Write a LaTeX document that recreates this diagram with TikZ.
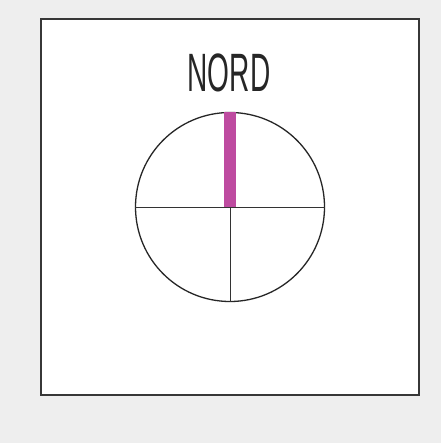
\documentclass[tikz,border=0pt]{standalone}
\usepackage{fontspec}
\usepackage{xcolor}
\usepackage{tikz}
\usetikzlibrary{positioning}
\newfontfamily\nordfont[FakeStretch=0.52]{Liberation Sans}
\definecolor{paper}{RGB}{238,238,238}
\definecolor{framegrey}{RGB}{55,55,55}
\definecolor{needlepink}{RGB}{190,75,160}

\begin{document}
\begin{tikzpicture}[x=1pt,y=-1pt,
  frame/.style={draw=framegrey, line width=1.8pt, fill=white},
  dial/.style={draw=black!85, circle, line width=1.3pt, minimum size=189pt, inner sep=0pt},
  axis/.style={draw=black!80, line width=0.8pt},
  needle/.style={draw=needlepink, line width=12pt},
  lab/.style={font=\nordfont\fontsize{54}{54}\selectfont, text=black!85, inner sep=0pt}
]
\fill[paper] (0,0) rectangle (441,443);
\useasboundingbox (0,0) rectangle (441,443);
\draw[frame] (41,19) rectangle (419,395);
\node[dial] (compass) at (230,207) {};
\draw[axis] (compass.west) -- (compass.east);
\draw[axis] (compass.center) -- (compass.south);
\draw[needle] (compass.center) -- (compass.north);
\node[lab, anchor=base] (north) at (229,92) {NORD};
\end{tikzpicture}
\end{document}
